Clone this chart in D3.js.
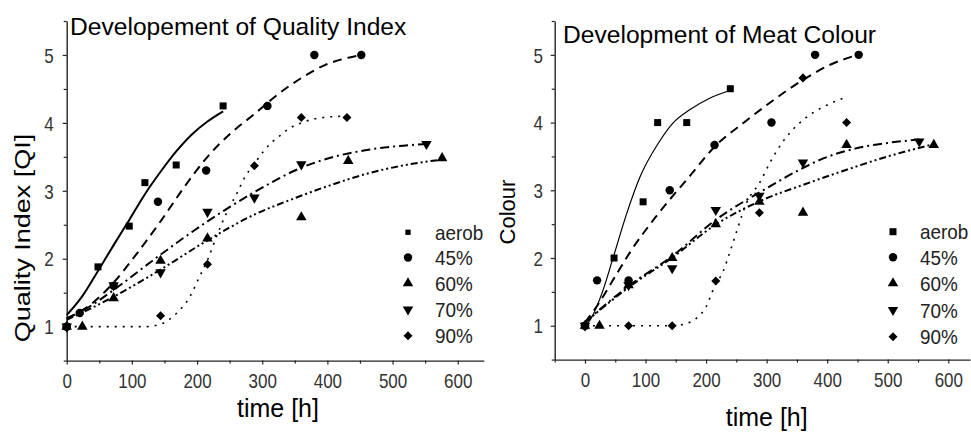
<!DOCTYPE html>
<html>
<head>
<meta charset="utf-8">
<script src="https://cdn.jsdelivr.net/npm/d3@7"></script>
<style>
  html, body { margin: 0; padding: 0; background: #fff; }
  svg { display: block; font-family: "Liberation Sans", Arial, Helvetica, sans-serif; }
</style>
</head>
<body>
<script>
// ---- shared labels and ticks ----
const seriesNames = ["aerob", "45%", "60%", "70%", "90%"];
const xTickValues = [0, 100, 200, 300, 400, 500, 600];
const xMinorTicks = [-50, 50, 150, 250, 350, 450, 550];
const yTickValues = [1, 2, 3, 4, 5];
const yMinorTicks = [0.5, 1.5, 2.5, 3.5, 4.5, 5.5];

// ---- Quality Index: measured scores (time in h) ----
const qiAerobTime = [0, 48, 96, 120, 168, 240];
const qiAerobValue = [1, 1.88, 2.48, 3.12, 3.38, 4.25];
const qi45Time = [0, 20, 72, 140, 214, 308, 380, 452];
const qi45Value = [1, 1.2, 1.6, 2.84, 3.3, 4.25, 5, 5];
const qi60Time = [0, 24, 72, 144, 216, 360, 432, 576];
const qi60Value = [1, 1.0, 1.42, 1.97, 2.3, 2.61, 3.44, 3.48];
const qi70Time = [0, 72, 144, 216, 288, 360, 552];
const qi70Value = [1, 1.61, 1.8, 2.69, 2.9, 3.39, 3.69];
const qi90Time = [0, 144, 216, 288, 360, 430];
const qi90Value = [1, 1.16, 1.92, 3.37, 4.08, 4.08];

// ---- Quality Index: fitted curves [time, value] ----
const qiAerobFit = [[0,1.17],[24,1.45],[48,1.82],[72,2.2],[96,2.57],[120,2.95],[144,3.28],[168,3.58],[192,3.83],[216,4.02],[240,4.17]];
const qi45Fit = [[0,1.12],[36,1.32],[72,1.65],[108,2.08],[144,2.55],[180,3.05],[216,3.5],[252,3.85],[288,4.13],[324,4.42],[360,4.66],[396,4.85],[432,4.96],[452,5.0]];
const qi60Fit = [[0,1.1],[72,1.44],[144,1.84],[216,2.27],[288,2.65],[344,2.87],[404,3.08],[460,3.25],[520,3.38],[576,3.46]];
const qi70Fit = [[0,1.12],[36,1.3],[72,1.54],[144,2.06],[216,2.55],[288,2.98],[360,3.34],[410,3.5],[460,3.6],[510,3.66],[552,3.69]];
const qi90Fit = [[0,1.0],[60,1.0],[120,1.0],[145,1.04],[169,1.2],[189,1.44],[204,1.74],[216,1.98],[230,2.33],[245,2.67],[261,2.96],[274,3.21],[288,3.4],[302,3.58],[314,3.71],[327,3.81],[342,3.92],[360,4.0],[376,4.05],[394,4.08],[430,4.1]];

// ---- Meat Colour: measured scores (time in h) ----
const colAerobTime = [0, 48, 96, 120, 168, 240];
const colAerobValue = [1, 2, 2.83, 4, 4, 4.5];
const col45Time = [0, 20, 72, 140, 214, 308, 380, 452];
const col45Value = [1, 1.67, 1.67, 3, 3.67, 4, 5, 5];
const col60Time = [0, 24, 72, 144, 216, 288, 360, 432, 576];
const col60Value = [1, 1, 1.6, 2, 2.5, 2.83, 2.67, 3.67, 3.67];
const col70Time = [0, 72, 144, 216, 288, 360, 552];
const col70Value = [1, 1.6, 1.85, 2.71, 2.92, 3.41, 3.72];
const col90Time = [0, 72, 144, 216, 288, 360, 432];
const col90Value = [1, 1, 1, 1.66, 2.67, 4.66, 4.0];

// ---- Meat Colour: fitted curves [time, value] ----
const colAerobFit = [[0,1.0],[8,1.08],[30,1.53],[47,2.02],[69,2.66],[91,3.2],[120,3.68],[146,4.0],[173,4.19],[206,4.36],[238,4.47]];
const col45Fit = [[0,1.05],[19,1.28],[48,1.7],[74,2.08],[118,2.62],[173,3.21],[217,3.67],[261,3.99],[311,4.33],[360,4.63],[404,4.85],[450,5.0]];
const col60Fit = [[0,1.05],[74,1.58],[143,2.0],[217,2.5],[294,2.86],[360,3.08],[421,3.27],[500,3.5],[575,3.68]];
const col70Fit = [[0,1.05],[74,1.6],[143,2.02],[217,2.57],[294,3.0],[360,3.33],[388,3.45],[448,3.62],[500,3.7],[553,3.75]];
const col90Fit = [[0,1.0],[63,1.0],[146,1.0],[170,1.04],[184,1.11],[200,1.28],[214,1.58],[228,1.8],[239,2.08],[250,2.38],[267,2.82],[289,3.12],[305,3.4],[327,3.72],[349,3.95],[374,4.13],[400,4.26],[432,4.38]];

// ---- drawing ----
const W = 971, H = 432;
const svg = d3.select("body").append("svg").attr("width", W).attr("height", H);

const downTriangle = {
  draw(ctx, size) {
    const s = Math.sqrt(size * 4 / Math.sqrt(3));
    const h = s * Math.sqrt(3) / 2;
    ctx.moveTo(0, h * 2 / 3);
    ctx.lineTo(s / 2, -h / 3);
    ctx.lineTo(-s / 2, -h / 3);
    ctx.closePath();
  }
};
const symbolTypes = [d3.symbolSquare, d3.symbolCircle, d3.symbolTriangle, downTriangle, d3.symbolDiamond2];
const symbolSizes = [49, 56, 48, 48, 52];
const dashes = [null, "9,6", "7,3,2,3,2,3", "9,4,2,4", "2,6"];
const intFormat = d3.format("d");

function zipPts(t, v) { return t.map((d, i) => [d, v[i]]); }

function drawPanel(cfg) {
  const g = svg.append("g");
  const x = d3.scaleLinear().domain(cfg.xDomain).range(cfg.xRange);
  const y = d3.scaleLinear().domain([0.5, 5.5]).range(cfg.yRange);
  const y0 = cfg.yRange[0];
  const x0 = cfg.xRange[0];

  // x axis: labelled hundreds + minor ticks
  const xa = g.append("g").attr("transform", `translate(0,${y0})`)
    .call(d3.axisBottom(x).tickValues(xTickValues).tickFormat(intFormat)
      .tickSize(4).tickSizeOuter(0).tickPadding(9));
  g.append("g").attr("transform", `translate(0,${y0})`)
    .call(d3.axisBottom(x).tickValues(xMinorTicks.filter(v => v >= cfg.xDomain[0] && v <= cfg.xDomain[1]))
      .tickSize(3).tickSizeOuter(0).tickFormat(""))
    .select(".domain").remove();
  xa.selectAll("text").attr("font-size", 20).attr("fill", "#333")
    .attr("transform", "scale(0.85,1)").style("font-family", "Liberation Sans, Arial, sans-serif");

  // y axis
  const ya = g.append("g").attr("transform", `translate(${x0},0)`)
    .call(d3.axisLeft(y).tickValues(yTickValues).tickFormat(intFormat).tickSize(4).tickSizeOuter(0));
  g.append("g").attr("transform", `translate(${x0},0)`)
    .call(d3.axisLeft(y).tickValues(yMinorTicks).tickSize(3).tickSizeOuter(0).tickFormat(""))
    .select(".domain").remove();
  ya.selectAll("text").attr("font-size", 20).attr("fill", "#333")
    .attr("x", -cfg.yLabelGap / 0.85).attr("dy", "0.36em")
    .attr("transform", "scale(0.85,1)").style("font-family", "Liberation Sans, Arial, sans-serif");

  g.selectAll(".domain").attr("stroke", "#222").attr("stroke-width", 1.4);
  g.selectAll(".tick line").attr("stroke", "#222").attr("stroke-width", 1.2);

  // fitted curves
  const line = d3.line().x(d => x(d[0])).y(d => y(d[1])).curve(d3.curveMonotoneX);
  cfg.fits.forEach((pts, i) => {
    g.append("path").attr("d", line(pts))
      .attr("fill", "none").attr("stroke", "#000")
      .attr("stroke-width", cfg.lineWidths[i])
      .attr("stroke-dasharray", dashes[i]);
  });

  // measured points
  cfg.points.forEach((pts, i) => {
    g.selectAll(null).data(pts).enter().append("path")
      .attr("d", d3.symbol().type(symbolTypes[i]).size(symbolSizes[i]))
      .attr("transform", d => `translate(${x(d[0])},${y(d[1])})`)
      .attr("fill", "#000");
  });

  // legend
  seriesNames.forEach((name, i) => {
    const ly = cfg.legendRows[i];
    g.append("path")
      .attr("d", d3.symbol().type(symbolTypes[i]).size(i === 0 ? cfg.legendSquare : symbolSizes[i]))
      .attr("transform", `translate(${cfg.legendX},${ly})`).attr("fill", "#000");
    g.append("text").attr("transform", `translate(${cfg.legendX + 27},${ly + 7.5}) scale(0.9,1)`)
      .attr("font-size", 21).attr("fill", "#222").text(name);
  });

  // titles
  g.append("text").attr("x", cfg.titleX).attr("y", cfg.titleY)
    .attr("font-size", 24.6).attr("fill", "#000").text(cfg.title);
  g.append("text").attr("x", cfg.xLabelX).attr("y", cfg.xLabelY)
    .attr("text-anchor", "middle").attr("font-size", 25).attr("fill", "#000").text("time [h]");
  g.append("text")
    .attr("transform", `translate(${cfg.yLabelX},${cfg.yLabelY}) scale(${cfg.yLabelSqueeze},1) rotate(-90)`)
    .attr("text-anchor", "middle").attr("font-size", cfg.yLabelSize).attr("fill", "#000").text(cfg.yLabel);
}

drawPanel({
  xDomain: [0, 640], xRange: [66.7, 483.8], yRange: [360.6, 21],
  yLabelGap: 13,
  fits: [qiAerobFit, qi45Fit, qi60Fit, qi70Fit, qi90Fit],
  lineWidths: [2, 2, 2, 2, 1.6],
  points: [zipPts(qiAerobTime, qiAerobValue), zipPts(qi45Time, qi45Value), zipPts(qi60Time, qi60Value),
           zipPts(qi70Time, qi70Value), zipPts(qi90Time, qi90Value)],
  legendX: 408, legendRows: [232.3, 257.5, 283.3, 309.5, 335.8], legendSquare: 28,
  title: "Developement of Quality Index", titleX: 70, titleY: 35,
  xLabelX: 278, xLabelY: 417,
  yLabel: "Quality Index [QI]", yLabelX: 30, yLabelY: 238, yLabelSize: 27, yLabelSqueeze: 0.8
});

drawPanel({
  xDomain: [-50, 636], xRange: [554.7, 970.1], yRange: [359.6, 21],
  yLabelGap: 11.7,
  fits: [colAerobFit, col45Fit, col60Fit, col70Fit, col90Fit],
  lineWidths: [1.2, 2, 2, 2, 1.6],
  points: [zipPts(colAerobTime, colAerobValue), zipPts(col45Time, col45Value), zipPts(col60Time, col60Value),
           zipPts(col70Time, col70Value), zipPts(col90Time, col90Value)],
  legendX: 893, legendRows: [231.7, 257.3, 283.3, 310, 336.7], legendSquare: 49,
  title: "Development of Meat Colour", titleX: 563, titleY: 43,
  xLabelX: 766.7, xLabelY: 426,
  yLabel: "Colour", yLabelX: 515, yLabelY: 212, yLabelSize: 22, yLabelSqueeze: 1
});
</script>
</body>
</html>
